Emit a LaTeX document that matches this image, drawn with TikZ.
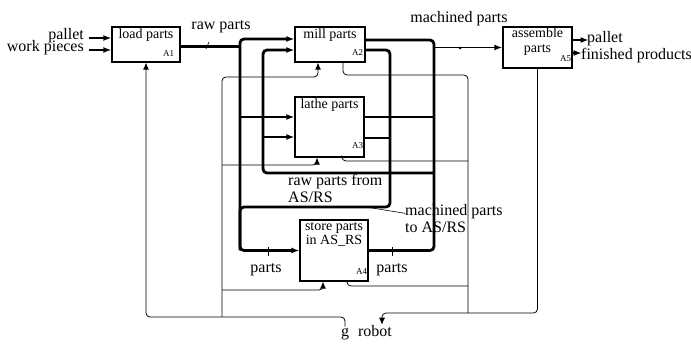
\documentclass[tikz,border=0pt]{standalone}
\usepackage{fontspec}
\setmainfont{Liberation Serif}
\usetikzlibrary{arrows.meta,positioning}
\newcommand{\lblfont}{\fontsize{16}{17}\selectfont}
\newcommand{\boxfont}{\fontsize{14}{14.5}\selectfont}
\newcommand{\numfont}{\fontsize{9}{9}\selectfont}

\begin{document}
\begin{tikzpicture}[x=1pt, y=-1pt, >={Latex[length=8pt,width=6pt]}, font=\lblfont,
  box/.style={draw, line width=1.3pt, inner sep=0pt},
  boxtxt/.style={font=\boxfont, align=center, inner sep=0pt},
  num/.style={font=\numfont, inner sep=0pt},
  lbl/.style={font=\lblfont, inner sep=0pt, align=left},
  bus/.style={line width=2.8pt, rounded corners=4pt},
  feed/.style={line width=1.7pt},
  mech/.style={line width=0.8pt, rounded corners=4pt, >={Latex[length=7pt,width=6pt]}},
  lead/.style={line width=0.6pt}]
  \useasboundingbox (0,0) rectangle (691,347);
  % ---------------------------------------------------------------- activity boxes
  \node[box, minimum width=68pt, minimum height=35pt] (load) at (146,44.5) {};
  \node[box, minimum width=70pt, minimum height=35pt] (mill) at (330,44.5) {};
  \node[box, minimum width=69pt, minimum height=60pt] (lathe) at (329.5,127) {};
  \node[box, minimum width=68pt, minimum height=61pt] (store) at (334,250.5) {};
  \node[box, minimum width=69pt, minimum height=41pt] (asm) at (537.5,47.5) {};
  \node[boxtxt, below=2pt of load.north] (load txt) {load parts};
  \node[boxtxt, below=2.5pt of mill.north] (mill txt) {mill parts};
  \node[boxtxt, below=2.5pt of lathe.north] (lathe txt) {lathe parts};
  \node[boxtxt, below=3pt of store.north] (store txt) {store parts\\in AS\_RS};
  \node[boxtxt, below=1.5pt of asm.north] (asm txt) {assemble\\parts};
  \node[num] (load num) at ([shift={(-12,-9)}]load.south east) {A1};
  \node[num] (mill num) at ([shift={(-8,-10)}]mill.south east) {A2};
  \node[num] (lathe num) at ([shift={(-7,-12)}]lathe.south east) {A3};
  \node[num] (store num) at ([shift={(-7,-10)}]store.south east) {A4};
  \node[num] (asm num) at ([shift={(-7,-10)}]asm.south east) {A5};
  % ---------------------------------------------------------------- labels
  \node[lbl, anchor=base east] (pallet lbl) at (84,39.5) {pallet};
  \node[lbl, anchor=base east] (work lbl) at (84,52) {work pieces};
  \node[lbl, anchor=base] (raw lbl) at (221,30) {raw parts};
  \node[lbl, anchor=base] (mc lbl) at (459,23) {machined parts};
  \node[lbl, anchor=base west] (pallet out lbl) at (587,43) {pallet};
  \node[lbl, anchor=base west] (fin lbl) at (581,60) {finished products};
  \node[lbl, anchor=north west] (ret lbl) at (288,174) {raw parts from\\AS/RS};
  \node[lbl, anchor=north west] (mcs lbl) at (405,204) {machined parts\\to AS/RS};
  \node[lbl, anchor=base] (in parts lbl) at (266,273) {parts};
  \node[lbl, anchor=base] (out parts lbl) at (392,273) {parts};
  \node[lbl, anchor=base] (g) at (345,337) {g};
  \node[lbl, anchor=base] (robot) at (375,337) {robot};
  % ---------------------------------------------------------------- bus positions
  \coordinate (rawX) at (240,0);
  \coordinate (retX) at (263,0);
  \coordinate (mcX) at (390,0);
  \coordinate (outX) at (434,0);
  \coordinate (ctlX) at (222,0);
  \coordinate (mchX) at (468,0);
  \coordinate (retY) at (0,173);
  \coordinate (mcY) at (0,207);
  \coordinate (botY) at (0,317);
  \coordinate (robotY) at (0,313);
  \coordinate (millY) at (0,77);
  \coordinate (latheY) at (0,165);
  \coordinate (storeY) at (0,290);
  \coordinate (millMY) at (0,75);
  \coordinate (latheMY) at (0,161);
  \coordinate (storeMY) at (0,286);
  % ports
  \coordinate (load in1) at ([yshift=6.5pt]load.west);
  \coordinate (load in2) at ([yshift=-5.5pt]load.west);
  \coordinate (load out) at ([yshift=-2pt]load.east);
  \coordinate (mill in1) at ([yshift=5.5pt]mill.west);
  \coordinate (mill in2) at ([yshift=-5.5pt]mill.west);
  \coordinate (mill out1) at ([yshift=4.5pt]mill.east);
  \coordinate (mill out2) at ([yshift=-5.5pt]mill.east);
  \coordinate (lathe in1) at ([yshift=10pt]lathe.west);
  \coordinate (lathe in2) at ([yshift=-10pt]lathe.west);
  \coordinate (lathe out1) at ([yshift=10pt]lathe.east);
  \coordinate (lathe out2) at ([yshift=-11pt]lathe.east);
  \coordinate (asm out1) at ([yshift=7.5pt]asm.east);
  \coordinate (asm out2) at ([yshift=-5.5pt]asm.east);
  \coordinate (mill ctl) at ([xshift=-12pt]mill.south);
  \coordinate (lathe ctl) at ([xshift=-12.5pt]lathe.south);
  \coordinate (store ctl) at ([xshift=-11pt]store.south);
  \coordinate (mill mech) at ([xshift=13pt]mill.south);
  \coordinate (lathe mech) at ([xshift=12.5pt]lathe.south);
  \coordinate (store mech) at ([xshift=13pt]store.south);
  \coordinate (robot arr) at ([xshift=7pt,yshift=1pt]robot.north);
  % ---------------------------------------------------------------- inputs and outputs
  \draw[bus, ->] (load in1) ++(-22,0) -- (load in1);
  \draw[bus, ->] (load in2) ++(-22,0) -- (load in2);
  \draw[feed, ->] (asm out1) -- ++(16,0);
  \draw[feed, ->] (asm out2) -- ++(9,0);
  % raw parts
  \draw[bus] (load out) -- (rawX |- load out);
  \draw[bus, ->] (rawX |- lathe.west) -- (rawX |- mill in1) -- (mill in1);
  \draw[bus, ->] (rawX |- lathe.west) -- (rawX |- store.west) -- (store.west);
  \draw[bus, ->] (rawX |- lathe in1) -- (lathe in1);
  % raw parts from AS/RS
  \draw[bus, ->] (outX |- retY) -- (retX |- retY) -- (retX |- mill in2) -- (mill in2);
  \draw[bus, ->] (retX |- lathe in2) -- (lathe in2);
  % machined parts
  \draw[bus] (mill out1) -- (outX |- mill out1) -- (outX |- store.east) -- (store.east);
  \draw[bus] (lathe out1) -- (outX |- lathe out1);
  \draw[feed, ->] (outX |- asm.west) -- (asm.west);
  % machined parts to AS/RS
  \draw[bus] (mill out2) -- (mcX |- mill out2) -- (mcX |- mcY) -- (rawX |- mcY) -- (rawX |- store.west);
  \draw[bus] (lathe out2) -- (mcX |- lathe out2);
  % label ticks
  \draw[lead] (206,49) -- (209,42);
  \fill (460,48) circle (1.5);
  \fill (366,207) circle (1.2);
  \draw[lead] (366,207) -- ([yshift=5pt]mcs lbl.west);
  \draw[lead] (268,247) -- (268,256);
  \draw[lead] (392,247) -- (392,256);
  % ---------------------------------------------------------------- robot
  \draw[mech, ->] ([yshift=2pt]g.north) -- (g.north |- botY) -- (load.south |- botY) -- (load.south);
  \draw[mech, ->] (ctlX |- botY) -- (ctlX |- millY) -- (mill ctl |- millY) -- (mill ctl);
  \draw[mech, ->] (ctlX |- latheY) -- (lathe ctl |- latheY) -- (lathe ctl);
  \draw[mech, ->] (ctlX |- storeY) -- (store ctl |- storeY) -- (store ctl);
  \draw[mech] (mill mech) -- (mill mech |- millMY) -- (mchX |- millMY) -- (mchX |- robotY);
  \draw[mech] (lathe mech) -- (lathe mech |- latheMY) -- (mchX |- latheMY);
  \draw[mech] (store mech) -- (store mech |- storeMY) -- (mchX |- storeMY);
  \draw[mech, ->] (asm.south) -- (asm.south |- robotY) -- (robot arr |- robotY) -- (robot arr);
\end{tikzpicture}
\end{document}
